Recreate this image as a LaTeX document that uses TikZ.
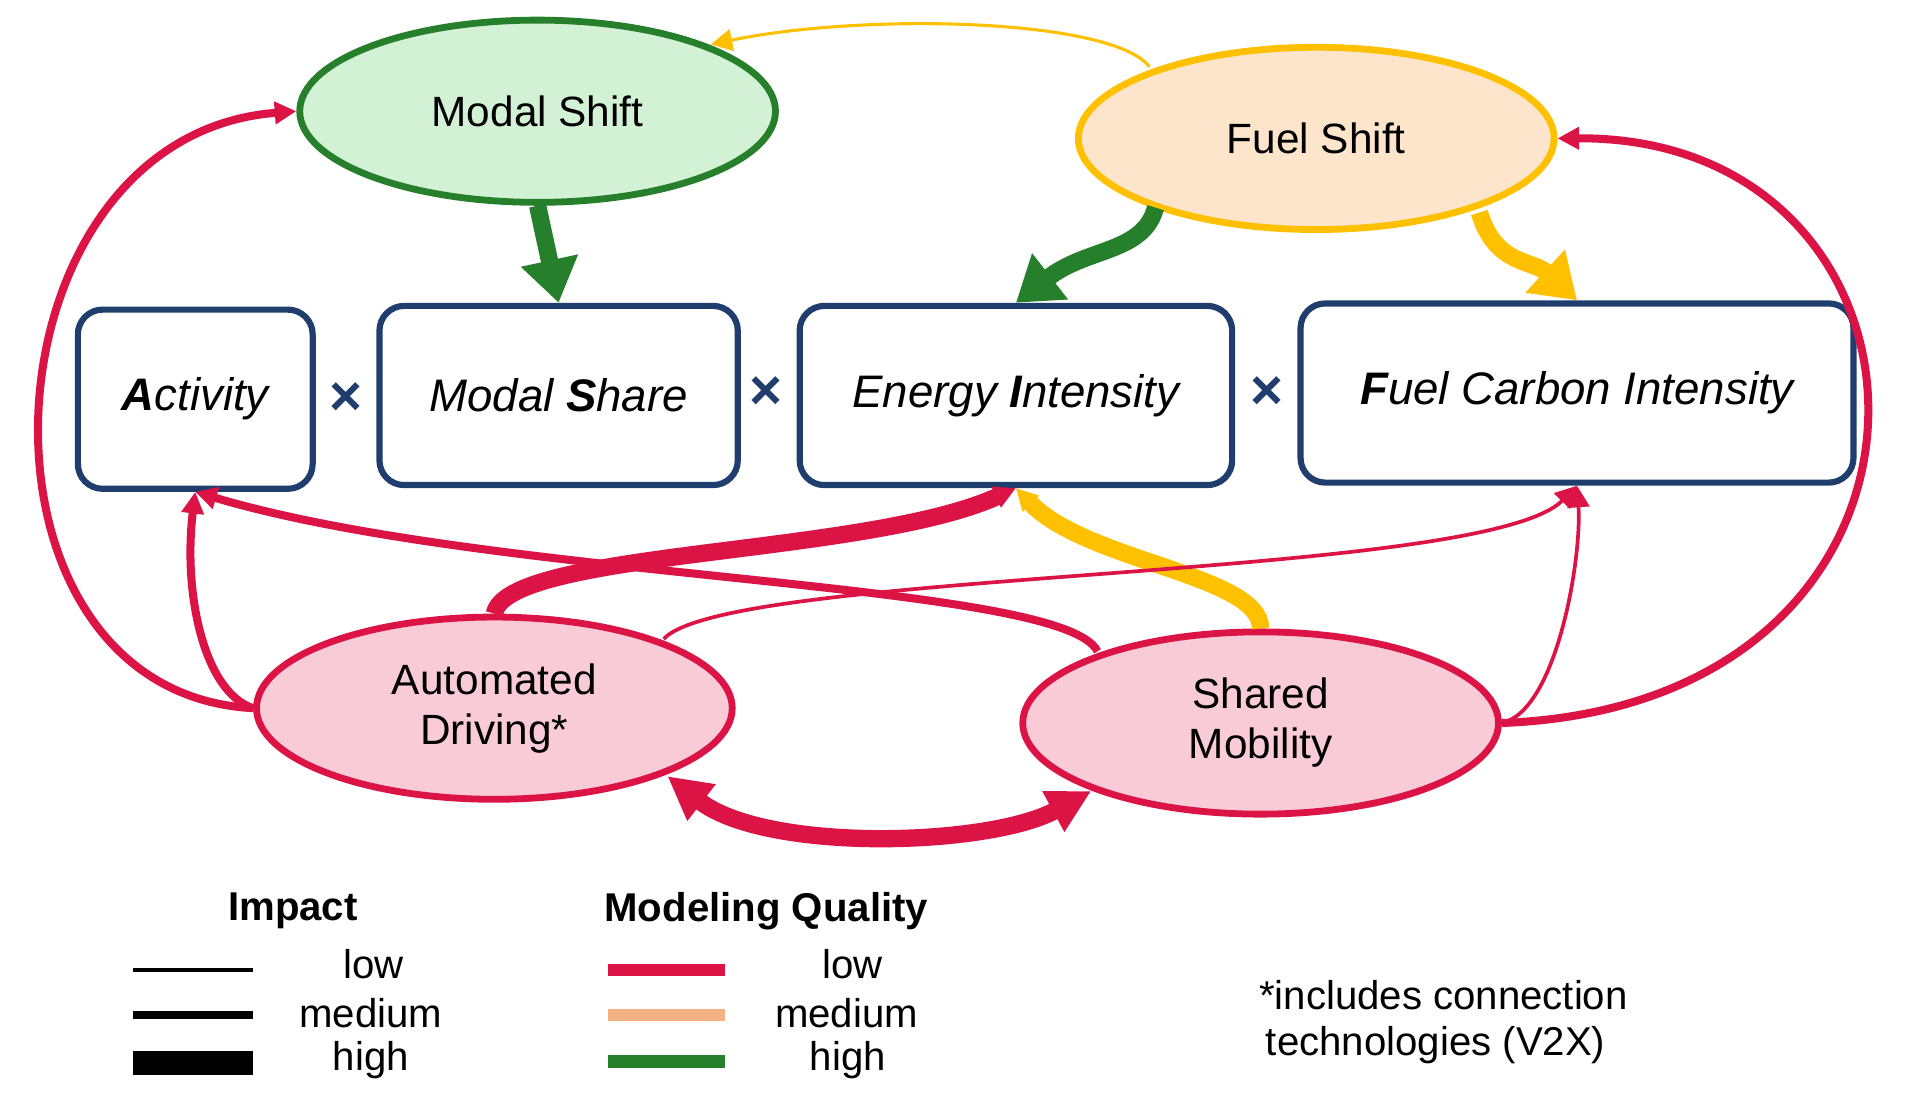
\documentclass[tikz,border=0pt]{standalone}
\usepackage{fontspec}
\setmainfont{Liberation Sans}
\usetikzlibrary{shapes.geometric,arrows.meta}
\definecolor{cred}{HTML}{DC1446}
\definecolor{corange}{HTML}{FFC000}
\definecolor{cgreen}{HTML}{267F2A}
\definecolor{cblue}{HTML}{1F3E6E}
\definecolor{lorange}{HTML}{F4B183}
\definecolor{fgreen}{HTML}{D3F1D5}
\definecolor{fpink}{HTML}{F9CBD7}
\definecolor{forange}{HTML}{FDE5CC}
\begin{document}
\begin{tikzpicture}[x=0.02cm,y=-0.02cm,
  ell/.style={ellipse,draw,line width=0.11cm,minimum width=7.7cm,minimum height=2.95cm,align=center,font=\fontsize{19.5}{23}\selectfont},
  box/.style={draw=cblue,line width=0.1cm,rounded corners=0.4cm,font=\fontsize{21}{24}\selectfont\itshape,inner sep=0pt},
  low/.style={line width=0.06cm},
  med/.style={line width=0.13cm},
  high/.style={line width=0.28cm},
  tip/.style={-{Triangle[length=0.35cm,width=0.35cm]}},
  bigtip/.style={-{Triangle[length=0.7cm,width=0.9cm]}},
  lab/.style={font=\fontsize{18.5}{21}\selectfont},
  times/.style={text=cblue,font=\fontsize{26}{26}\selectfont\bfseries}
]
\useasboundingbox (0,0) rectangle (1560,900);
% nodes
\node[ell,draw=cgreen,fill=fgreen] (ms) at (435,90) {Modal Shift};
\node[ell,draw=corange,fill=forange] (fs) at (1065,112) {Fuel Shift};
\node[ell,draw=cred,fill=fpink] (ad) at (400,573) {Automated\\Driving*};
\node[ell,draw=cred,fill=fpink] (sm) at (1020,585) {Shared\\Mobility};
\node[box,minimum width=3.8cm,minimum height=2.9cm] (act) at (158,323) {\textbf{A}ctivity};
\node[box,minimum width=5.8cm,minimum height=2.9cm] (msh) at (452,320) {Modal \textbf{S}hare};
\node[box,minimum width=7.0cm,minimum height=2.9cm] (ei) at (822,320) {Energy \textbf{I}ntensity};
\node[box,minimum width=8.95cm,minimum height=2.9cm] (fci) at (1276,318) {\textbf{F}uel Carbon Intensity};
\node[times] (x1) at (280,323) {×};
\node[times] (x2) at (620,318) {×};
\node[times] (x3) at (1025,318) {×};
% anchor points on ellipses
\coordinate (fsA) at (930,54);
\coordinate (msA) at (575,36);
\coordinate (fsB) at (935,168);
\coordinate (fsC) at (1197,172);
\coordinate (smA) at (888,527);
\coordinate (adA) at (537,517);
\coordinate (adB) at (540,628);
\coordinate (smB) at (883,640);
% connectors
\draw[corange,line width=0.05cm,tip] (fsA) .. controls (900,15) and (700,10) .. (msA);
\draw[cgreen,high,bigtip] (ms.south) -- (msh.north);
\draw[cgreen,high,bigtip] (fsB) .. controls (925,205) and (880,200) .. (ei.north);
\draw[corange,high,bigtip] (fsC) .. controls (1210,215) and (1240,210) .. (fci.north);
\draw[cred,med,tip] (ad.west) .. controls (-40,560) and (-20,110) .. (ms.west);
\draw[cred,med,tip] (sm.east) .. controls (1610,570) and (1590,110) .. (fs.east);
\draw[cred,med,tip] (ad.west) .. controls (165,560) and (148,480) .. (act.south);
\draw[cred,high,tip] (ad.north) .. controls (410,445) and (700,450) .. (ei.south);
\draw[corange,high,tip] (sm.north) .. controls (1020,465) and (880,455) .. (ei.south);
\draw[cred,med,tip] (smA) .. controls (860,470) and (400,470) .. (act.south);
\draw[cred,low,tip] (adA) .. controls (590,460) and (1200,470) .. (fci.south);
\draw[cred,low,tip] (sm.east) .. controls (1260,575) and (1280,450) .. (fci.south);
\draw[cred,high,{Triangle[length=0.7cm,width=0.7cm]}-{Triangle[length=0.7cm,width=0.7cm]}] (adB) .. controls (620,690) and (800,685) .. (smB);
% legend
\node[font=\fontsize{18.5}{21}\selectfont\bfseries] (imp) at (237,737) {Impact};
\node[font=\fontsize{18.5}{21}\selectfont\bfseries] (mq) at (620,737) {Modeling Quality};
\draw[low] (108,785) -- (205,785);
\draw[med] (108,821) -- (205,821);
\draw[line width=0.38cm] (108,860) -- (205,860);
\node[lab] (l1) at (302,780) {low};
\node[lab] (l2) at (300,820) {medium};
\node[lab] (l3) at (300,858) {high};
\draw[cred,line width=0.2cm] (492,785) -- (587,785);
\draw[lorange,line width=0.2cm] (492,821) -- (587,821);
\draw[cgreen,line width=0.2cm] (492,859) -- (587,859);
\node[lab] (m1) at (690,780) {low};
\node[lab] (m2) at (685,820) {medium};
\node[lab] (m3) at (686,858) {high};
\node[lab,align=left] (fn) at (1168,827) {*includes connection\\ \,technologies (V2X)};
\end{tikzpicture}
\end{document}
